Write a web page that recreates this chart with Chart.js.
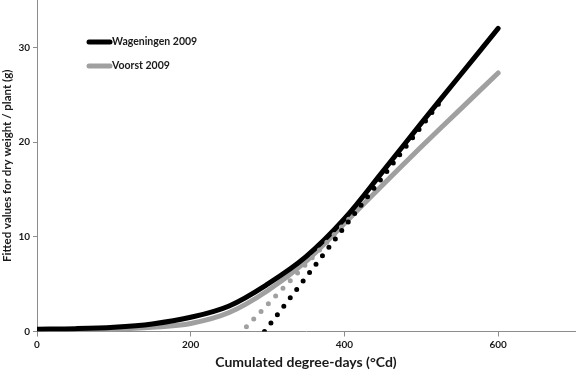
<!DOCTYPE html>
<html>
<head>
<meta charset="utf-8">
<script src="https://cdn.jsdelivr.net/npm/chart.js@4/dist/chart.umd.min.js"></script>
<style>
  html, body { margin: 0; padding: 0; background: #fff; }
  #wrap { width: 577px; height: 371px; }
</style>
</head>
<body>
<div id="wrap"><canvas id="DryWeight"></canvas></div>
<script>
  // degree-days and fitted dry weight per plant (g)
  const degreeDays   = [0, 50, 100, 150, 200, 250, 300, 350, 400, 450, 500, 550, 600];
  const wageningen   = [0.25, 0.3, 0.45, 0.8, 1.5, 2.7, 5.0, 7.9, 11.9, 16.9, 22.0, 27.0, 32.0];
  const voorst       = [0.15, 0.18, 0.25, 0.45, 0.85, 2.0, 4.3, 7.4, 11.4, 15.5, 19.5, 23.4, 27.3];

  // tangents of the linear phase (dotted), start and end points
  const wageningenTangentX = [296, 525];
  const wageningenTangentY = [0, 24.3];
  const voorstTangentX     = [272.5, 412];
  const voorstTangentY     = [0.5, 12.4];

  const xTicks = [0, 200, 400, 600];
  const yTicks = [0, 10, 20, 30];

  const text_dark  = '#1a1a1a';
  const axis_gray  = '#8c8c8c';
  const line_black = '#000000';
  const line_gray  = '#a0a0a0';

  function toPoints(xs, ys) {
    return xs.map(function (x, i) { return { x: x, y: ys[i] } });
  }

  // legend drawn inside the plot area, top left
  const innerLegend = {
    id: 'innerLegend',
    afterDraw(chart) {
      const ctx = chart.ctx;
      const items = [
        { label: 'Wageningen 2009', color: line_black, y: 42 },
        { label: 'Voorst 2009', color: line_gray, y: 66 }
      ];
      ctx.save();
      items.forEach(function (it) {
        ctx.beginPath();
        ctx.lineWidth = 5;
        ctx.lineCap = 'round';
        ctx.strokeStyle = it.color;
        ctx.moveTo(89, it.y);
        ctx.lineTo(110, it.y);
        ctx.stroke();
        ctx.fillStyle = text_dark;
        ctx.font = 'bold 10.5px Lato';
        ctx.textBaseline = 'middle';
        ctx.fillText(it.label, 112, it.y);
      });
      ctx.restore();
    }
  };

  const ctx = document.getElementById('DryWeight').getContext('2d');
  const DryChart = new Chart(ctx, {
    type: 'line',
    data: {
      datasets: [{
        label: 'Wageningen 2009 tangent',
        data: toPoints(wageningenTangentX, wageningenTangentY),
        borderColor: line_black,
        borderWidth: 5,
        borderDash: [0, 10.6],
        borderCapStyle: 'round',
        pointRadius: 0,
        order: 0
      }, {
        label: 'Voorst 2009 tangent',
        data: toPoints(voorstTangentX, voorstTangentY),
        borderColor: line_gray,
        borderWidth: 5,
        borderDash: [0, 10.6],
        borderCapStyle: 'round',
        pointRadius: 0,
        order: 1
      }, {
        label: 'Wageningen 2009',
        data: toPoints(degreeDays, wageningen),
        borderColor: line_black,
        borderWidth: 5,
        borderCapStyle: 'round',
        tension: 0.35,
        pointRadius: 0,
        order: 2
      }, {
        label: 'Voorst 2009',
        data: toPoints(degreeDays, voorst),
        borderColor: line_gray,
        borderWidth: 5,
        borderCapStyle: 'round',
        tension: 0.35,
        pointRadius: 0,
        order: 3
      }]
    },
    options: {
      responsive: true,
      maintainAspectRatio: false,
      animation: false,
      layout: {
        padding: { top: 0, right: 2, left: 0, bottom: 0 }
      },
      scales: {
        x: {
          type: 'linear',
          min: 0,
          max: 700,
          afterBuildTicks: function (axis) {
            axis.ticks = xTicks.map(function (v) { return { value: v } });
          },
          afterFit: function (axis) { axis.height = 39.5; axis.paddingLeft = 0; axis.paddingRight = 0 },
          border: { color: axis_gray, width: 1 },
          grid: { display: true, drawOnChartArea: false, tickLength: 5, color: axis_gray },
          ticks: {
            color: text_dark,
            padding: 2,
            maxRotation: 0,
            font: { family: 'Lato', size: 10, weight: 'bold' }
          },
          title: {
            display: true,
            text: 'Cumulated degree-days (°Cd)',
            color: text_dark,
            padding: { top: 3, bottom: 0 },
            font: { family: 'Lato', size: 14, weight: 'bold' }
          }
        },
        y: {
          type: 'linear',
          min: 0,
          max: 35,
          afterBuildTicks: function (axis) {
            axis.ticks = yTicks.map(function (v) { return { value: v } });
          },
          afterFit: function (axis) { axis.width = 37; axis.paddingTop = 0; axis.paddingBottom = 0 },
          border: { color: axis_gray, width: 1 },
          grid: { display: true, drawOnChartArea: false, tickLength: 4, color: axis_gray },
          ticks: {
            color: text_dark,
            padding: 3,
            font: { family: 'Lato', size: 10, weight: 'bold' }
          },
          title: {
            display: true,
            text: 'Fitted values for dry weight / plant (g)',
            color: text_dark,
            padding: { top: 0, bottom: 0 },
            font: { family: 'Lato', size: 11.5, weight: 'bold' }
          }
        }
      },
      plugins: {
        legend: { display: false },
        tooltip: { enabled: false }
      }
    },
    plugins: [innerLegend]
  });
</script>
</body>
</html>
